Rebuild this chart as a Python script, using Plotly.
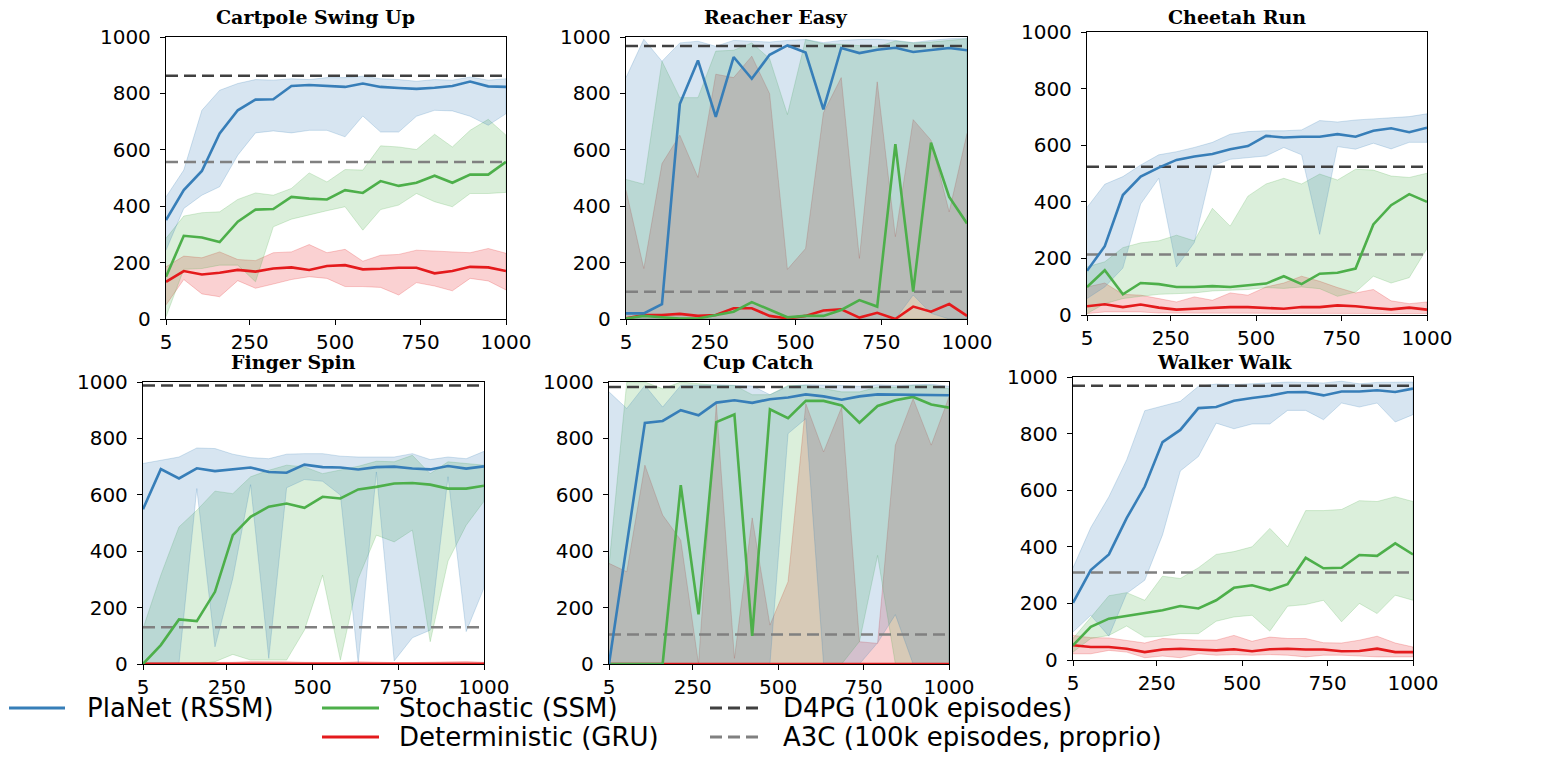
import plotly.graph_objects as go

# the page body has an 8px margin, so the figure is drawn 8px smaller and
# pixel positions measured on the screenshot are shifted by OFF
OFF = 8
W, H = 1553 - OFF, 759 - OFF

# training episodes (x axis)
episodes = [5, 57, 110, 162, 215, 267, 319, 372, 424, 476, 529, 581, 633, 686, 738, 791, 843, 895, 948, 1000]
x_ticks = [5, 250, 500, 750, 1000]
y_ticks = [0, 200, 400, 600, 800, 1000]

# Cartpole Swing Up
cartpole_rssm = [351, 457, 525, 658, 740, 778, 779, 826, 830, 826, 823, 835, 823, 819, 816, 820, 826, 842, 825, 823]
cartpole_rssm_hi = [433, 528, 740, 811, 835, 849, 847, 852, 849, 856, 856, 861, 852, 849, 843, 849, 847, 858, 847, 852]
cartpole_rssm_lo = [244, 392, 439, 469, 581, 660, 667, 660, 669, 669, 646, 720, 663, 663, 719, 740, 738, 719, 687, 728]
cartpole_ssm = [150, 295, 289, 273, 345, 388, 390, 433, 427, 424, 457, 447, 489, 472, 483, 508, 483, 512, 512, 557]
cartpole_ssm_hi = [286, 365, 377, 380, 424, 447, 439, 463, 518, 486, 530, 528, 614, 610, 601, 655, 610, 669, 708, 652]
cartpole_ssm_lo = [8, 176, 179, 191, 191, 132, 327, 354, 368, 384, 398, 315, 388, 404, 445, 416, 398, 445, 445, 449]
cartpole_gru = [132, 170, 158, 164, 174, 168, 179, 183, 174, 188, 191, 176, 178, 182, 182, 162, 170, 185, 183, 170]
cartpole_gru_hi = [185, 223, 217, 238, 211, 207, 235, 238, 264, 235, 247, 205, 226, 229, 244, 242, 238, 235, 250, 233]
cartpole_gru_lo = [50, 140, 89, 79, 136, 109, 124, 140, 150, 144, 115, 115, 112, 85, 129, 117, 100, 144, 135, 103]

# Reacher Easy
reacher_rssm = [20, 20, 53, 762, 917, 717, 929, 852, 937, 970, 945, 743, 961, 943, 955, 962, 947, 955, 961, 953]
reacher_rssm_hi = [856, 992, 914, 979, 985, 967, 988, 986, 982, 988, 991, 980, 988, 991, 992, 988, 980, 988, 994, 996]
reacher_rssm_lo = [0, 0, 0, 0, 0, 0, 0, 0, 0, 0, 0, 0, 0, 0, 0, 0, 85, 20, 0, 0]
reacher_ssm = [2, 11, 6, 2, 2, 14, 26, 60, 34, 6, 11, 11, 32, 67, 44, 620, 97, 625, 433, 339]
reacher_ssm_hi = [495, 478, 914, 785, 785, 950, 953, 979, 923, 725, 991, 976, 974, 970, 965, 986, 979, 982, 988, 994]
reacher_ssm_lo = [0, 0, 0, 0, 0, 0, 0, 0, 0, 0, 0, 0, 0, 0, 0, 0, 0, 0, 0, 0]
reacher_gru = [2, 14, 14, 18, 11, 14, 38, 38, 11, 2, 11, 30, 34, 5, 22, 0, 44, 26, 53, 11]
reacher_gru_hi = [457, 179, 551, 652, 502, 868, 856, 932, 799, 176, 250, 731, 856, 215, 841, 292, 707, 634, 380, 658]
reacher_gru_lo = [0, 0, 0, 0, 0, 0, 0, 0, 0, 0, 0, 0, 0, 0, 0, 0, 0, 0, 0, 0]

# Cheetah Run
cheetah_rssm = [156, 243, 424, 489, 521, 548, 560, 569, 586, 597, 633, 627, 630, 630, 639, 630, 651, 660, 646, 662]
cheetah_rssm_hi = [380, 462, 489, 530, 566, 577, 592, 610, 639, 648, 651, 651, 654, 687, 682, 689, 693, 698, 701, 711]
cheetah_rssm_lo = [58, 99, 166, 392, 483, 170, 256, 527, 550, 557, 562, 592, 566, 285, 595, 586, 607, 587, 610, 610]
cheetah_ssm = [99, 158, 73, 113, 109, 99, 99, 102, 99, 105, 111, 137, 109, 146, 149, 164, 320, 388, 427, 400]
cheetah_ssm_hi = [170, 188, 238, 255, 262, 282, 262, 377, 314, 420, 463, 483, 463, 498, 477, 515, 512, 491, 486, 501]
cheetah_ssm_lo = [5, 40, 58, 66, 73, 76, 78, 85, 87, 90, 97, 94, 99, 93, 66, 81, 137, 113, 132, 235]
cheetah_gru = [31, 38, 28, 37, 26, 19, 22, 26, 28, 28, 26, 22, 28, 28, 34, 31, 25, 20, 26, 19]
cheetah_gru_hi = [99, 113, 73, 70, 58, 46, 64, 52, 78, 70, 99, 113, 137, 119, 97, 78, 90, 50, 40, 46]
cheetah_gru_lo = [5, 11, 11, 11, 7, 5, 5, 5, 5, 5, 5, 5, 5, 5, 5, 5, 5, 5, 5, 5]

# Finger Spin
finger_rssm = [549, 691, 658, 694, 684, 690, 697, 681, 678, 707, 698, 697, 690, 698, 700, 693, 690, 702, 693, 701]
finger_rssm_hi = [711, 723, 734, 766, 764, 744, 732, 728, 744, 746, 746, 737, 734, 734, 734, 746, 725, 734, 728, 754]
finger_rssm_lo = [2, 2, 2, 622, 61, 303, 636, 20, 625, 654, 648, 599, 2, 681, 11, 93, 120, 664, 115, 270]
finger_ssm = [0, 67, 158, 152, 256, 457, 522, 558, 569, 554, 593, 587, 619, 628, 640, 642, 636, 622, 622, 632]
finger_ssm_hi = [126, 315, 486, 545, 613, 604, 664, 687, 705, 699, 675, 687, 701, 719, 717, 740, 675, 717, 711, 705]
finger_ssm_lo = [0, 0, 0, 0, 8, 34, 14, 14, 14, 120, 315, 14, 303, 457, 433, 475, 79, 365, 492, 577]
finger_gru = [1, 1, 1, 1, 1, 1, 1, 1, 1, 1, 1, 1, 1, 1, 1, 1, 1, 1, 1, 1]
finger_gru_hi = [4, 4, 4, 4, 5, 6, 9, 9, 8, 6, 5, 5, 8, 6, 5, 5, 6, 7, 9, 6]
finger_gru_lo = [0, 0, 0, 0, 0, 0, 0, 0, 0, 0, 0, 0, 0, 0, 0, 0, 0, 0, 0, 0]

# Cup Catch
cup_rssm = [0, 427, 855, 862, 900, 882, 927, 935, 926, 939, 945, 956, 949, 937, 949, 956, 955, 953, 953, 953]
cup_rssm_hi = [965, 906, 988, 911, 988, 990, 990, 988, 986, 955, 985, 990, 990, 988, 985, 990, 988, 990, 992, 985]
cup_rssm_lo = [0, 0, 0, 0, 0, 0, 0, 0, 0, 0, 817, 870, 0, 0, 0, 75, 175, 0, 0, 0]
cup_ssm = [0, 0, 0, 0, 634, 176, 858, 885, 100, 903, 872, 933, 933, 917, 856, 915, 935, 947, 920, 909]
cup_ssm_hi = [350, 1000, 1000, 976, 1000, 994, 988, 988, 955, 955, 988, 988, 976, 965, 965, 982, 982, 988, 988, 976]
cup_ssm_lo = [0, 0, 0, 0, 0, 0, 0, 0, 0, 0, 0, 0, 0, 0, 80, 385, 0, 0, 0, 0]
cup_gru = [0, 0, 0, 0, 0, 0, 0, 0, 0, 0, 0, 0, 0, 0, 0, 0, 0, 0, 0, 0]
cup_gru_hi = [357, 327, 705, 528, 439, 0, 923, 20, 518, 138, 292, 923, 752, 911, 79, 73, 776, 941, 776, 947]
cup_gru_lo = [0, 0, 0, 0, 0, 0, 0, 0, 0, 0, 0, 0, 0, 0, 0, 0, 0, 0, 0, 0]

# Walker Walk
walker_rssm = [202, 318, 373, 501, 613, 770, 813, 890, 894, 916, 926, 934, 946, 947, 935, 949, 949, 953, 947, 959]
walker_rssm_hi = [326, 468, 577, 707, 881, 898, 914, 967, 975, 973, 976, 979, 982, 981, 979, 985, 976, 981, 982, 982]
walker_rssm_lo = [99, 158, 84, 235, 282, 442, 668, 719, 837, 817, 834, 834, 882, 882, 849, 908, 894, 908, 841, 867]
walker_ssm = [52, 117, 146, 156, 168, 176, 191, 182, 211, 255, 264, 247, 268, 361, 324, 326, 371, 368, 412, 373]
walker_ssm_hi = [76, 152, 227, 238, 211, 296, 288, 326, 373, 383, 400, 465, 400, 528, 528, 532, 563, 560, 577, 560]
walker_ssm_lo = [28, 76, 87, 120, 81, 84, 93, 93, 137, 152, 158, 102, 190, 196, 211, 135, 200, 164, 229, 211]
walker_gru = [52, 46, 46, 40, 28, 37, 40, 37, 34, 38, 31, 38, 40, 37, 37, 31, 32, 40, 28, 28]
walker_gru_hi = [87, 79, 78, 70, 60, 76, 72, 70, 70, 87, 66, 81, 76, 76, 61, 60, 70, 84, 60, 46]
walker_gru_lo = [22, 22, 34, 28, 8, 14, 8, 22, 17, 19, 17, 19, 17, 11, 17, 17, 14, 11, 11, 11]

# baselines per task
task_names = ["Cartpole Swing Up", "Reacher Easy", "Cheetah Run", "Finger Spin", "Cup Catch", "Walker Walk"]
d4pg_scores = [863, 968, 524, 988, 982, 969]
a3c_scores = [557, 97, 214, 130, 105, 309]

legend_labels = ["PlaNet (RSSM)", "Stochastic (SSM)", "Deterministic (GRU)",
                 "D4PG (100k episodes)", "A3C (100k episodes, proprio)"]

BLUE = "55,126,184"
GREEN = "77,175,74"
RED = "228,26,28"
D4PG_COL = "#404040"
A3C_COL = "#808080"

# order: deterministic, stochastic, planet (planet drawn on top)
tasks = [
    [(cartpole_gru, cartpole_gru_lo, cartpole_gru_hi), (cartpole_ssm, cartpole_ssm_lo, cartpole_ssm_hi), (cartpole_rssm, cartpole_rssm_lo, cartpole_rssm_hi)],
    [(reacher_gru, reacher_gru_lo, reacher_gru_hi), (reacher_ssm, reacher_ssm_lo, reacher_ssm_hi), (reacher_rssm, reacher_rssm_lo, reacher_rssm_hi)],
    [(cheetah_gru, cheetah_gru_lo, cheetah_gru_hi), (cheetah_ssm, cheetah_ssm_lo, cheetah_ssm_hi), (cheetah_rssm, cheetah_rssm_lo, cheetah_rssm_hi)],
    [(finger_gru, finger_gru_lo, finger_gru_hi), (finger_ssm, finger_ssm_lo, finger_ssm_hi), (finger_rssm, finger_rssm_lo, finger_rssm_hi)],
    [(cup_gru, cup_gru_lo, cup_gru_hi), (cup_ssm, cup_ssm_lo, cup_ssm_hi), (cup_rssm, cup_rssm_lo, cup_rssm_hi)],
    [(walker_gru, walker_gru_lo, walker_gru_hi), (walker_ssm, walker_ssm_lo, walker_ssm_hi), (walker_rssm, walker_rssm_lo, walker_rssm_hi)],
]
colors = [RED, GREEN, BLUE]

# panel boxes in screen pixels: left, right, top, bottom
boxes = [(166, 506, 37, 319), (626, 967, 37, 319), (1087, 1427, 32, 315),
         (143, 484, 382, 664), (609, 949, 382, 664), (1073, 1413, 377, 660)]
title_pos = [(315, 17), (776, 17), (1237, 17), (293, 362), (758, 362), (1224, 362)]


def px(x):
    return (x - OFF) / W


def py(y):
    return 1 - (y - OFF) / H


fig = go.Figure()
layout = {}
annotations = []

for i, series in enumerate(tasks):
    n = "" if i == 0 else str(i + 1)
    xa, ya = "x" + n, "y" + n
    l, r, t, b = boxes[i]

    # bands first
    for (mean, lo, hi), c in zip(series, colors):
        fig.add_trace(go.Scatter(
            x=episodes + episodes[::-1], y=hi + lo[::-1], xaxis=xa, yaxis=ya,
            fill="toself", fillcolor=f"rgba({c},0.2)", mode="lines",
            line=dict(color=f"rgba({c},0.22)", width=1),
            showlegend=False, hoverinfo="skip"))

    # baselines
    for val, col in ((d4pg_scores[i], D4PG_COL), (a3c_scores[i], A3C_COL)):
        fig.add_trace(go.Scatter(
            x=[episodes[0], episodes[-1]], y=[val, val], xaxis=xa, yaxis=ya,
            mode="lines", line=dict(color=col, width=2.5, dash="12px,6px"),
            showlegend=False))

    # mean curves
    for (mean, lo, hi), c in zip(series, colors):
        fig.add_trace(go.Scatter(
            x=episodes, y=mean, xaxis=xa, yaxis=ya, mode="lines",
            line=dict(color=f"rgb({c})", width=2.6), showlegend=False))

    axis_common = dict(showline=True, mirror=True, linecolor="black", linewidth=1.3,
                       ticks="outside", ticklen=5, tickwidth=1.3, tickcolor="black",
                       showgrid=False, zeroline=False, automargin=False,
                       tickfont=dict(family="DejaVu Sans", size=20, color="black"))
    layout["xaxis" + n] = dict(axis_common, domain=[px(l), px(r)], anchor=ya,
                               range=[5, 1000], tickvals=x_ticks,
                               ticktext=[str(v) for v in x_ticks])
    layout["yaxis" + n] = dict(axis_common, domain=[py(b), py(t)], anchor=xa,
                               range=[0, 1000], tickvals=y_ticks,
                               ticktext=[str(v) for v in y_ticks],
                               ticklabelstandoff=5)

    tx, ty = title_pos[i]
    annotations.append(dict(text="<b>" + task_names[i] + "</b>", x=px(tx), y=py(ty),
                            xref="paper", yref="paper", showarrow=False,
                            xanchor="center", yanchor="middle",
                            font=dict(family="DejaVu Serif", size=19, color="black")))

# legend drawn below the panels
shapes = []
leg_items = [
    (legend_labels[0], f"rgb({BLUE})", "solid", 9, 65, 85, 708),
    (legend_labels[1], f"rgb({GREEN})", "solid", 322, 379, 397, 708),
    (legend_labels[2], f"rgb({RED})", "solid", 322, 379, 397, 737),
    (legend_labels[3], D4PG_COL, "dash", 710, 760, 781, 708),
    (legend_labels[4], A3C_COL, "dash", 710, 760, 781, 737),
]
for label, col, dash, x0, x1, xt, yy in leg_items:
    shapes.append(dict(type="line", xref="paper", yref="paper",
                       x0=px(x0), x1=px(x1), y0=py(yy), y1=py(yy),
                       line=dict(color=col, width=3, dash="12px,6px" if dash == "dash" else "solid")))
    annotations.append(dict(text=label, x=px(xt), y=py(yy), xref="paper", yref="paper",
                            showarrow=False, xanchor="left", yanchor="middle",
                            font=dict(family="DejaVu Sans", size=26, color="black")))

fig.update_layout(
    width=W, height=H,
    margin=dict(l=0, r=0, t=0, b=0),
    paper_bgcolor="white", plot_bgcolor="white",
    showlegend=False,
    annotations=annotations, shapes=shapes,
    **layout)

fig.write_html("out.html")
